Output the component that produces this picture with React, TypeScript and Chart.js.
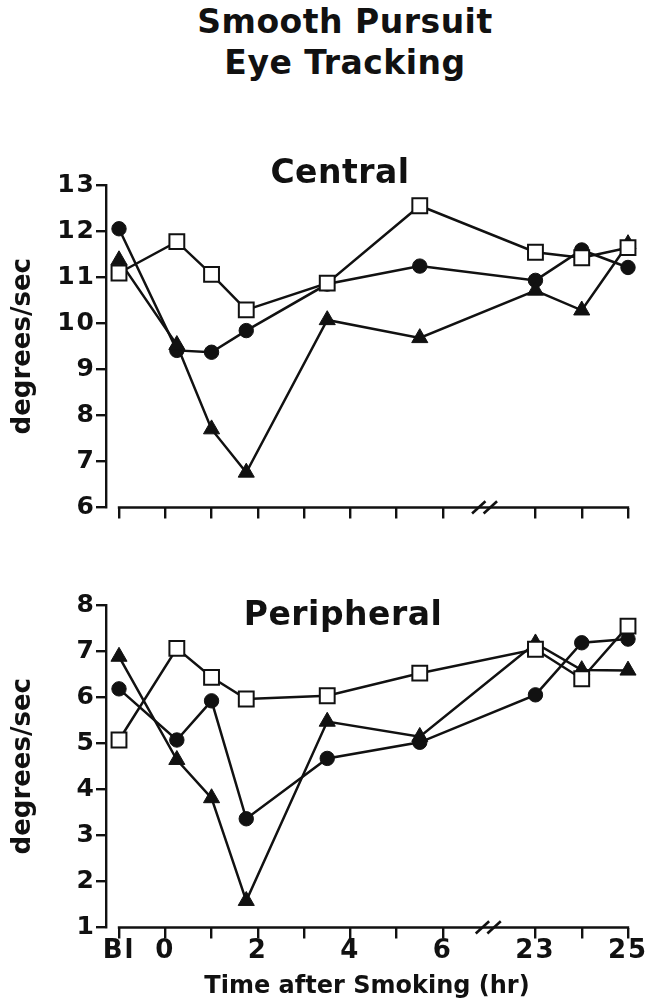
import React, { useEffect, useRef } from 'react';
import { Chart, registerables } from 'chart.js';

Chart.register(...registerables);

// Session times in hours after smoking; -1 stands for the baseline session ("Bl").
const sessionHours = [-1, 0.25, 1, 1.75, 3.5, 5.5, 23, 24, 25];

// Axis ticks (hours) and their labels; the axis is broken between 6 and 23 hr.
const tickHours = [-1, 0, 1, 2, 3, 4, 5, 6, 23, 24, 25];
const tickLabels = ['Bl', '0', '', '2', '', '4', '', '6', '23', '', '25'];

// Central smooth pursuit (degrees/sec)
const centralSquares = [11.09, 11.77, 11.06, 10.29, 10.87, 12.55, 11.54, 11.42, 11.64];
const centralTriangles = [11.37, 9.53, 7.7, 6.76, 10.07, 9.68, 10.71, 10.28, 11.72];
const centralCircles = [12.05, 9.41, 9.37, 9.84, 10.85, 11.24, 10.93, 11.59, 11.21];

// Peripheral smooth pursuit (degrees/sec)
const peripheralSquares = [5.07, 7.06, 6.43, 5.96, 6.03, 6.52, 7.04, 6.4, 7.54];
const peripheralTriangles = [6.88, 4.64, 3.81, 1.58, 5.47, 5.14, 7.17, 6.59, 6.58];
const peripheralCircles = [6.18, 5.07, 5.92, 3.36, 4.67, 5.02, 6.05, 7.18, 7.26];

const INK = '#111';
const FONT = 'DejaVu Sans';

// compress the 6 -> 23 hr gap into a single axis unit
const toAxis = (h: number) => (h >= 23 ? h - 15 : h);

const spacingPlugin = {
  id: 'letterSpacing',
  beforeDraw(chart: any) {
    chart.ctx.letterSpacing = '0px';
  },
  afterDatasetsDraw(chart: any) {
    chart.ctx.letterSpacing = '2px';
  },
  afterDraw(chart: any) {
    chart.ctx.letterSpacing = '0px';
  },
};

function makeAxisPlugin(breakHour: number) {
  return {
    id: 'brokenAxis',
    beforeDatasetsDraw(chart: any) {
      const { ctx, chartArea, scales } = chart;
      const xs = scales.x;
      const y = chartArea.bottom;
      const x0 = xs.getPixelForValue(toAxis(-1));
      const x1 = xs.getPixelForValue(toAxis(25));
      ctx.save();
      ctx.strokeStyle = INK;
      ctx.lineWidth = 2.4;
      ctx.beginPath();
      ctx.moveTo(x0 - 1.2, y);
      ctx.lineTo(x1 + 1.2, y);
      ctx.stroke();
      const cx = xs.getPixelForValue(breakHour);
      ctx.lineWidth = 2.6;
      for (const off of [-5.8, 5.8]) {
        ctx.beginPath();
        ctx.moveTo(cx + off - 6.7, y + 6);
        ctx.lineTo(cx + off + 6.7, y - 6.2);
        ctx.stroke();
      }
      ctx.restore();
    },
  };
}

type PanelProps = {
  top: number;
  height: number;
  yMin: number;
  yMax: number;
  squares: number[];
  triangles: number[];
  circles: number[];
  showXLabels: boolean;
  breakAt: number;
};

function Panel(props: PanelProps) {
  const ref = useRef<HTMLCanvasElement>(null);
  useEffect(() => {
    const canvas = ref.current;
    if (!canvas) return;
    const { height, yMin, yMax, squares, triangles, circles, showXLabels, breakAt } = props;
    const pts = (vals: number[]) => sessionHours.map((h, i) => ({ x: toAxis(h), y: vals[i] }));
    const chartBottom = 367.5;
    const chart = new Chart(canvas, {
      type: 'line',
      data: {
        datasets: [
          {
            label: 'squares',
            data: pts(squares),
            borderColor: INK,
            borderWidth: 2.5,
            pointStyle: 'rect',
            pointRadius: 10.5,
            pointBackgroundColor: '#fff',
            pointBorderColor: INK,
            pointBorderWidth: 2,
            tension: 0,
            clip: false,
          },
          {
            label: 'triangles',
            data: pts(triangles),
            borderColor: INK,
            borderWidth: 2.5,
            pointStyle: 'triangle',
            pointRadius: 9.3,
            pointBackgroundColor: INK,
            pointBorderColor: INK,
            pointBorderWidth: 1,
            tension: 0,
            clip: false,
          },
          {
            label: 'circles',
            data: pts(circles),
            borderColor: INK,
            borderWidth: 2.5,
            pointStyle: 'circle',
            pointRadius: 7.2,
            pointBackgroundColor: INK,
            pointBorderColor: INK,
            pointBorderWidth: 1,
            tension: 0,
            clip: false,
          },
        ] as any,
      },
      options: {
        responsive: false,
        animation: false,
        events: [],
        layout: { padding: { left: 0, right: 22, top: 45, bottom: 0 } },
        plugins: {
          legend: { display: false },
          tooltip: { enabled: false },
          title: { display: false },
        },
        scales: {
          x: {
            type: 'linear',
            min: toAxis(-1) - 0.281,
            max: toAxis(25),
            afterBuildTicks: (s: any) => {
              s.ticks = tickHours.map((h) => ({ value: toAxis(h) }));
            },
            afterFit: (s: any) => {
              s.height = height - chartBottom;
            },
            grid: {
              drawOnChartArea: false,
              drawTicks: true,
              tickLength: 11,
              color: INK,
              lineWidth: 2.4,
            },
            border: { display: false },
            ticks: {
              display: showXLabels,
              autoSkip: false,
              maxRotation: 0,
              minRotation: 0,
              padding: 0,
              color: INK,
              z: 1,
              font: { family: FONT, size: 26, weight: 'bold', lineHeight: 1 },
              callback: (_v: any, i: number) => tickLabels[i],
            },
            title: {
              display: showXLabels,
              text: 'Time after Smoking (hr)',
              color: INK,
              font: { family: FONT, size: 24, weight: 'bold', lineHeight: 1.2 },
              padding: { top: 0, bottom: 0 },
            },
          },
          y: {
            type: 'linear',
            min: yMin,
            max: yMax,
            afterFit: (s: any) => {
              s.width = 106;
            },
            grid: {
              drawOnChartArea: false,
              drawTicks: true,
              tickLength: 10,
              color: INK,
              lineWidth: 2.4,
            },
            border: { display: true, color: INK, width: 2.4 },
            ticks: {
              stepSize: 1,
              padding: 0,
              color: INK,
              z: 1,
              font: { family: FONT, size: 25, weight: 'bold' },
            },
            title: {
              display: true,
              text: 'degrees/sec',
              color: INK,
              font: { family: FONT, size: 26, weight: 'bold', lineHeight: 1.2 },
              padding: { top: 8, bottom: 0 },
            },
          },
        },
      } as any,
      plugins: [spacingPlugin, makeAxisPlugin(breakAt)],
    });
    return () => chart.destroy();
  }, []);
  return (
    <canvas
      ref={ref}
      width={650}
      height={props.height}
      style={{ position: 'absolute', left: 0, top: props.top, width: 650, height: props.height }}
    />
  );
}

const textStyle: React.CSSProperties = {
  position: 'absolute',
  fontFamily: FONT,
  fontWeight: 'bold',
  fontSize: 33,
  lineHeight: '41px',
  letterSpacing: '0.5px',
  color: INK,
  whiteSpace: 'nowrap',
  transform: 'translateX(-50%)',
  textAlign: 'center',
};

export default function App() {
  return (
    <div style={{ position: 'absolute', left: 0, top: 0, width: 650, height: 1001, background: '#fff', overflow: 'hidden' }}>
      <Panel
        top={140}
        height={420}
        yMin={6}
        yMax={13}
        squares={centralSquares}
        triangles={centralTriangles}
        circles={centralCircles}
        showXLabels={false}
        breakAt={6.9}
      />
      <Panel
        top={560}
        height={441}
        yMin={1}
        yMax={8}
        squares={peripheralSquares}
        triangles={peripheralTriangles}
        circles={peripheralCircles}
        showXLabels={true}
        breakAt={6.98}
      />
      <div style={{ ...textStyle, left: 345, top: 1 }}>
        Smooth Pursuit
        <br />
        Eye Tracking
      </div>
      <div style={{ ...textStyle, left: 340, top: 151 }}>Central</div>
      <div style={{ ...textStyle, left: 343, top: 593 }}>Peripheral</div>
    </div>
  );
}
